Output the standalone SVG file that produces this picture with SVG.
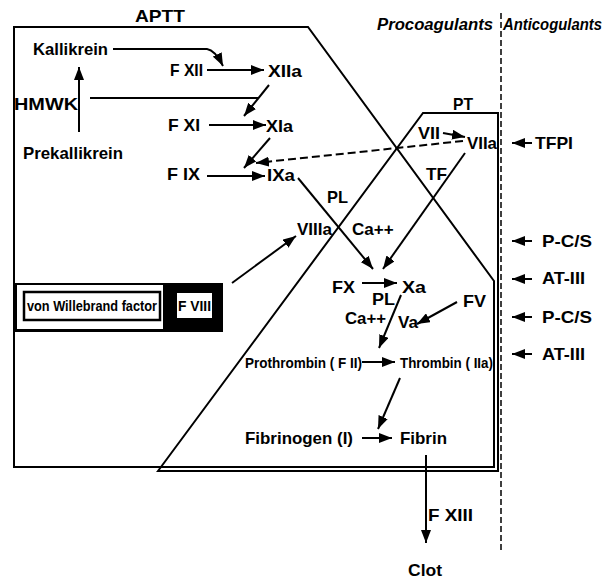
<svg xmlns="http://www.w3.org/2000/svg" width="612" height="579" viewBox="0 0 612 579">
<defs>
<style>
text{font-family:"Liberation Sans",Arial,sans-serif;font-weight:bold;font-size:17px;fill:#000}
.sm{font-size:15px}
.s16{font-size:16px}
.it{font-style:italic;font-size:16px}
.frame{fill:none;stroke:#000;stroke-width:2}
.ln{fill:none;stroke:#000;stroke-width:2}
.ar{fill:none;stroke:#000;stroke-width:2;marker-end:url(#ah)}
.dash{fill:none;stroke:#000;stroke-width:2;stroke-dasharray:8 4;marker-end:url(#ah)}
</style>
<marker id="ah" markerUnits="userSpaceOnUse" markerWidth="14" markerHeight="10" refX="13" refY="5" orient="auto">
<path d="M0,0 L13,5 L0,10 z" fill="#000"/>
</marker>
</defs>
<rect width="612" height="579" fill="#fff"/>

<g id="frames">
<polygon class="frame" points="14,27 308,27 494,281 494,467 14,467"/>
<polygon class="frame" points="158,471 423,113 498,113 498,471"/>
<line x1="501" y1="13" x2="501" y2="550" stroke="#000" stroke-width="1.5" stroke-dasharray="6 3"/>
</g>

<g id="headers">
<text x="135" y="22" textLength="50" lengthAdjust="spacingAndGlyphs">APTT</text>
<text x="453" y="110" textLength="20" lengthAdjust="spacingAndGlyphs">PT</text>
<text class="it" x="377" y="30" textLength="116" lengthAdjust="spacingAndGlyphs">Procoagulants</text>
<text class="it" x="503" y="30" textLength="99" lengthAdjust="spacingAndGlyphs">Anticogulants</text>
</g>

<g id="connectors">
<path class="ar" d="M113,49 L207,49 Q215,50 223,66"/>
<path class="ar" d="M207,70 L264,70"/>
<path class="ar" d="M79,132 L79,67"/>
<path class="ln" d="M90,98 L258,98"/>
<path class="ar" d="M269,85 L244,116"/>
<path class="ar" d="M209,125 L266,125"/>
<path class="ar" d="M270,138 L244,168"/>
<path class="ar" d="M207,176 L265,176"/>
<path class="dash" d="M463,141 L256,163"/>
<path class="ar" d="M443,133 L465,137"/>
<path class="ar" d="M532,143 L512,143"/>
<path class="ar" d="M465,153 L383,269"/>
<path class="ar" d="M298,178 L373,269"/>
<path class="ar" d="M232,283 L296,236"/>
<path class="ar" d="M362,283 L397,283"/>
<path class="ar" d="M401,295 L379,348"/>
<path class="ar" d="M457,302 L417,324"/>
<path class="ar" d="M362,362 L395,362"/>
<path class="ar" d="M400,378 L378,429"/>
<path class="ar" d="M362,438 L392,438"/>
<path class="ar" d="M426,455 L426,543"/>
<path class="ar" d="M532,241 L512,241"/>
<path class="ar" d="M532,279 L512,279"/>
<path class="ar" d="M532,317 L512,317"/>
<path class="ar" d="M532,354 L512,354"/>
</g>

<g id="kallikrein"><text x="33" y="55" textLength="75" lengthAdjust="spacingAndGlyphs">Kallikrein</text></g>
<g id="fxii"><text x="170" y="76" textLength="33" lengthAdjust="spacingAndGlyphs">F XII</text></g>
<g id="xiia"><text x="268" y="77" textLength="34" lengthAdjust="spacingAndGlyphs">XIIa</text></g>
<g id="hmwk"><text x="14" y="110" textLength="64" lengthAdjust="spacingAndGlyphs">HMWK</text></g>
<g id="fxi"><text x="168" y="131" textLength="32" lengthAdjust="spacingAndGlyphs">F XI</text></g>
<g id="xia"><text x="266" y="132" textLength="27" lengthAdjust="spacingAndGlyphs">XIa</text></g>
<g id="prekallikrein"><text x="23" y="159" textLength="100" lengthAdjust="spacingAndGlyphs">Prekallikrein</text></g>
<g id="fix"><text x="167" y="180" textLength="33" lengthAdjust="spacingAndGlyphs">F IX</text></g>
<g id="ixa"><text x="267" y="181" textLength="28" lengthAdjust="spacingAndGlyphs">IXa</text></g>
<g id="vii"><text x="418" y="139" textLength="22" lengthAdjust="spacingAndGlyphs">VII</text></g>
<g id="viia"><text x="467" y="149" textLength="30" lengthAdjust="spacingAndGlyphs">VIIa</text></g>
<g id="tfpi"><text x="535" y="149" textLength="38" lengthAdjust="spacingAndGlyphs">TFPI</text></g>
<g id="tf"><text x="426" y="180" textLength="21" lengthAdjust="spacingAndGlyphs">TF</text></g>
<g id="pl1"><text x="327" y="203" textLength="21" lengthAdjust="spacingAndGlyphs">PL</text></g>
<g id="viiia"><text x="297" y="235" textLength="35" lengthAdjust="spacingAndGlyphs">VIIIa</text></g>
<g id="ca1"><text x="352" y="235">Ca++</text></g>
<g id="vwf">
<rect x="15" y="283" width="208" height="49" fill="#000"/>
<rect x="17" y="285" width="146" height="44" fill="#fff"/>
<rect x="24" y="292" width="136" height="28" fill="#fff" stroke="#000" stroke-width="2.5"/>
<text x="27" y="311" style="font-size:14px" textLength="130" lengthAdjust="spacingAndGlyphs">von Willebrand factor</text>
<rect x="177" y="293" width="35" height="25" fill="#fff"/>
<text x="178" y="311" style="font-size:15px" textLength="33" lengthAdjust="spacingAndGlyphs">F VIII</text>
</g>
<g id="fx"><text x="332" y="293" textLength="23" lengthAdjust="spacingAndGlyphs">FX</text></g>
<g id="xa"><text x="402" y="293" textLength="24" lengthAdjust="spacingAndGlyphs">Xa</text></g>
<g id="pl2"><text class="s16" x="372" y="305" textLength="23" lengthAdjust="spacingAndGlyphs">PL</text></g>
<g id="ca2"><text class="s16" x="345" y="324" textLength="41" lengthAdjust="spacingAndGlyphs">Ca++</text></g>
<g id="va"><text x="398" y="328" textLength="20" lengthAdjust="spacingAndGlyphs">Va</text></g>
<g id="fv"><text x="463" y="307" textLength="23" lengthAdjust="spacingAndGlyphs">FV</text></g>
<g id="pcs1"><text x="542" y="247" textLength="50" lengthAdjust="spacingAndGlyphs">P-C/S</text></g>
<g id="at1"><text x="542" y="284" textLength="43" lengthAdjust="spacingAndGlyphs">AT-III</text></g>
<g id="pcs2"><text x="542" y="323" textLength="50" lengthAdjust="spacingAndGlyphs">P-C/S</text></g>
<g id="at2"><text x="542" y="360" textLength="43" lengthAdjust="spacingAndGlyphs">AT-III</text></g>
<g id="prothrombin"><text class="sm" x="245" y="368" textLength="117" lengthAdjust="spacingAndGlyphs">Prothrombin ( F II)</text></g>
<g id="thrombin"><text class="sm" x="400" y="368" textLength="93" lengthAdjust="spacingAndGlyphs">Thrombin ( IIa)</text></g>
<g id="fibrinogen"><text x="245" y="444" textLength="108" lengthAdjust="spacingAndGlyphs">Fibrinogen (I)</text></g>
<g id="fibrin"><text x="400" y="444" textLength="47" lengthAdjust="spacingAndGlyphs">Fibrin</text></g>
<g id="fxiii"><text x="428" y="521" textLength="45" lengthAdjust="spacingAndGlyphs">F XIII</text></g>
<g id="clot"><text x="408" y="576" textLength="34" lengthAdjust="spacingAndGlyphs">Clot</text></g>
</svg>
